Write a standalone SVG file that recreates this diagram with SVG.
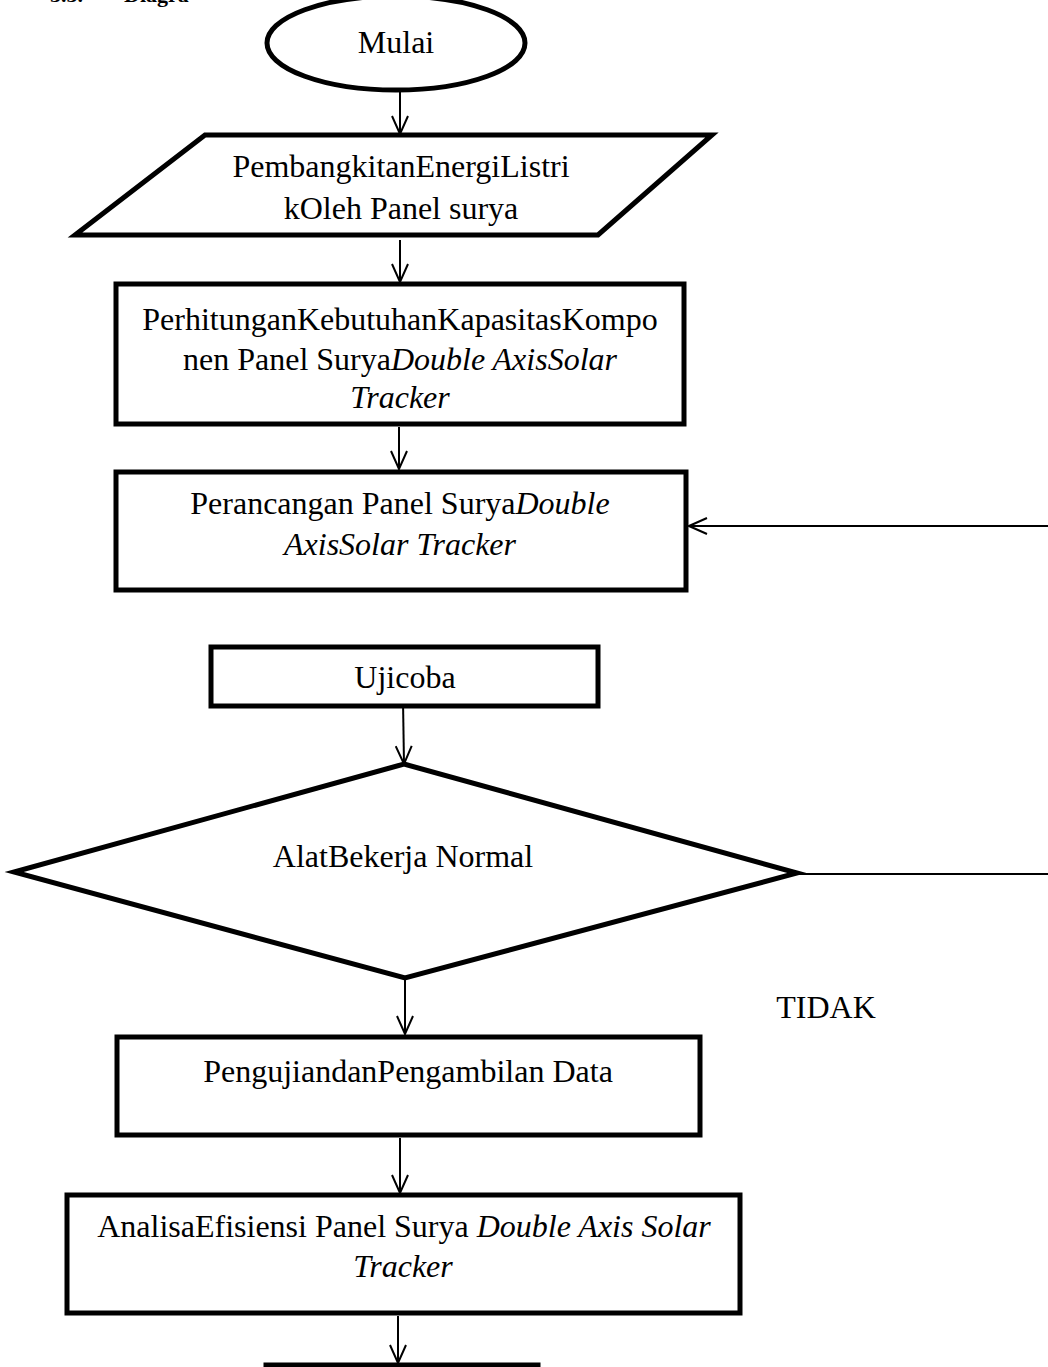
<svg xmlns="http://www.w3.org/2000/svg" width="1048" height="1367" viewBox="0 0 1048 1367">
<style>
.s{fill:#fff;stroke:#000;stroke-width:5;stroke-linejoin:miter}
.t{font-family:"Liberation Serif","Times New Roman",serif;font-size:32px;fill:#000;text-anchor:middle}
.i{font-style:italic}
.h{font-family:"Liberation Serif","Times New Roman",serif;font-size:22px;font-weight:bold;fill:#000}
.c{fill:none;stroke:#000;stroke-width:2}
</style>
<defs>
<marker id="ah" viewBox="0 0 20 18" refX="19" refY="9" markerWidth="20" markerHeight="18" markerUnits="userSpaceOnUse" orient="auto">
<path d="M1,1 L19,9 L1,17" fill="none" stroke="#000" stroke-width="2"/>
</marker>
</defs>
<rect width="1048" height="1367" fill="#fff"/>
<text class="h" x="50" y="2">3.3.</text>
<text class="h" x="124" y="2">Diagra</text>

<g id="connectors">
<line class="c" x1="400" y1="90" x2="400" y2="134" marker-end="url(#ah)"/>
<line class="c" x1="400" y1="240" x2="400" y2="282" marker-end="url(#ah)"/>
<line class="c" x1="399" y1="427" x2="399" y2="469" marker-end="url(#ah)"/>
<line class="c" x1="1048" y1="526" x2="689" y2="526" marker-end="url(#ah)"/>
<line class="c" x1="403" y1="700" x2="404" y2="764" marker-end="url(#ah)"/>
<line class="c" x1="797" y1="874" x2="1048" y2="874"/>
<line class="c" x1="405" y1="980" x2="405" y2="1034" marker-end="url(#ah)"/>
<line class="c" x1="400" y1="1138" x2="400" y2="1193" marker-end="url(#ah)"/>
<line class="c" x1="398" y1="1316" x2="398" y2="1363" marker-end="url(#ah)"/>
</g>

<g id="mulai">
<ellipse class="s" cx="396" cy="43" rx="129" ry="47"/>
<text class="t" x="396" y="53">Mulai</text>
</g>

<g id="pembangkitan">
<polygon class="s" points="205,135 712,135 598,235 75,235"/>
<text class="t" x="401" y="177">PembangkitanEnergiListri</text>
<text class="t" x="401" y="219">kOleh Panel surya</text>
</g>

<g id="perhitungan">
<rect class="s" x="116" y="284" width="568" height="140"/>
<text class="t" x="400" y="330">PerhitunganKebutuhanKapasitasKompo</text>
<text class="t" x="400" y="370">nen Panel Surya<tspan class="i">Double AxisSolar</tspan></text>
<text class="t i" x="400" y="408">Tracker</text>
</g>

<g id="perancangan">
<rect class="s" x="116" y="472" width="570" height="118"/>
<text class="t" x="400" y="514">Perancangan Panel Surya<tspan class="i">Double</tspan></text>
<text class="t i" x="400" y="555">AxisSolar Tracker</text>
</g>

<g id="ujicoba">
<rect class="s" x="211" y="647" width="387" height="59"/>
<text class="t" x="405" y="688">Ujicoba</text>
</g>

<g id="alat">
<polygon class="s" points="404,764 797,873 405,978 14,872"/>
<text class="t" x="403" y="867">AlatBekerja Normal</text>
</g>

<text class="t" x="826" y="1018">TIDAK</text>

<g id="pengujian">
<rect class="s" x="117" y="1037" width="583" height="98"/>
<text class="t" x="408" y="1082">PengujiandanPengambilan Data</text>
</g>

<g id="analisa">
<rect class="s" x="67" y="1195" width="673" height="118"/>
<text class="t" x="404" y="1237">AnalisaEfisiensi Panel Surya <tspan class="i">Double Axis Solar</tspan></text>
<text class="t i" x="403" y="1277">Tracker</text>
</g>

<g id="end">
<rect class="s" x="266" y="1365" width="272" height="40"/>
</g>
</svg>
